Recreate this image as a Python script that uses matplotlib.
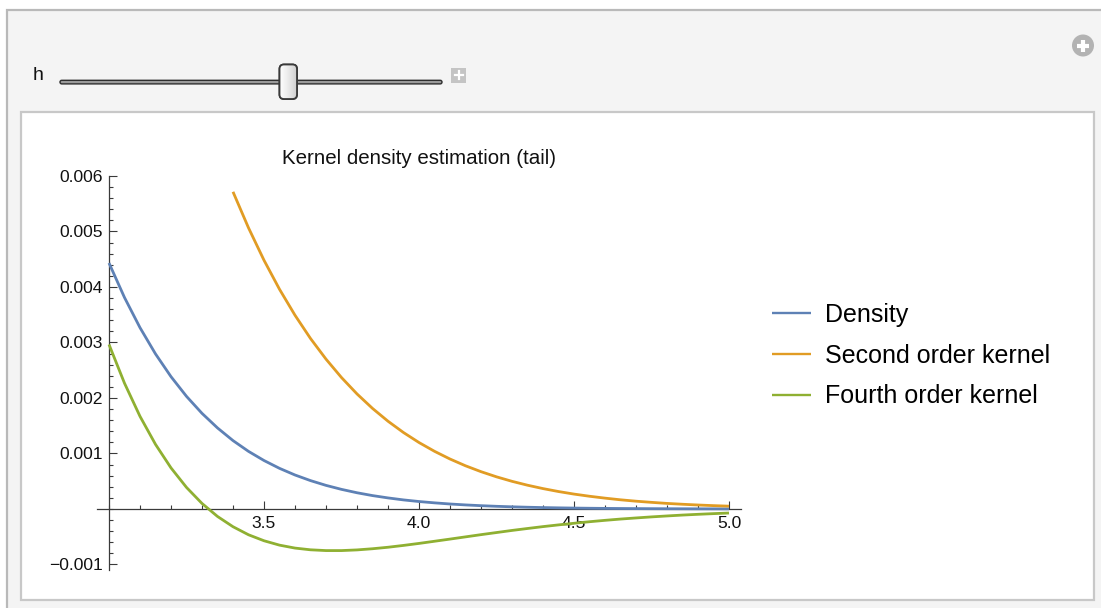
import matplotlib
matplotlib.use("Agg")
import numpy as np
import matplotlib.pyplot as plt
from matplotlib.patches import Rectangle, FancyBboxPatch, Circle
from matplotlib.ticker import FixedLocator, MultipleLocator

plt.rcParams['font.family'] = ['Liberation Sans', 'DejaVu Sans']

# values
x_grid = [3.00, 3.05, 3.10, 3.15, 3.20, 3.25, 3.30, 3.35, 3.40, 3.45,
          3.50, 3.55, 3.60, 3.65, 3.70, 3.75, 3.80, 3.85, 3.90, 3.95,
          4.00, 4.05, 4.10, 4.15, 4.20, 4.25, 4.30, 4.35, 4.40, 4.45,
          4.50, 4.55, 4.60, 4.65, 4.70, 4.75, 4.80, 4.85, 4.90, 4.95, 5.00]

density = [0.004432, 0.003810, 0.003267, 0.002794, 0.002384, 0.002029, 0.001723,
           0.001460, 0.001232, 0.001038, 0.000873, 0.000732, 0.000612, 0.000511,
           0.000425, 0.000353, 0.000292, 0.000241, 0.000199, 0.000163,
           0.000134, 0.000110, 0.0000894, 0.0000728, 0.0000591, 0.0000478,
           0.0000386, 0.0000311, 0.0000250, 0.0000200, 0.0000160, 0.0000127,
           0.0000101, 0.0000080, 0.0000064, 0.0000050, 0.0000040, 0.0000031,
           0.0000024, 0.0000019, 0.0000015]

# second order curve is cut off by the plot range before x = 3.4
x_second = x_grid[8:]
second_order = [0.005715, 0.005066, 0.004482, 0.003959, 0.003491, 0.003072,
                0.002700, 0.002368, 0.002073, 0.001812, 0.001581, 0.001377,
                0.001197, 0.001039, 0.000900, 0.000778, 0.000672, 0.000579,
                0.000498, 0.000428, 0.000367, 0.000314, 0.000268, 0.000229,
                0.000195, 0.000165, 0.000140, 0.000119, 0.000100, 0.0000847,
                0.0000713, 0.0000600, 0.0000503]

fourth_order = [0.002964, 0.002266, 0.001669, 0.001164, 0.000740, 0.000388,
                0.0000992, -0.000135, -0.000320, -0.000465, -0.000573, -0.000652,
                -0.000705, -0.000736, -0.000750, -0.000750, -0.000738, -0.000717,
                -0.000690, -0.000657,
                -0.000621, -0.000582, -0.000543, -0.000503, -0.000463, -0.000425,
                -0.000387, -0.000352, -0.000318, -0.000287, -0.000258, -0.000230,
                -0.000205, -0.000182, -0.000162, -0.000143, -0.000126, -0.000110,
                -0.0000965, -0.0000842, -0.0000733]

series_names = ["Density", "Second order kernel", "Fourth order kernel"]
series_colors = ["#5e81b5", "#e19c24", "#8fb032"]

x_ticks = [3.5, 4.0, 4.5, 5.0]
x_tick_labels = ["3.5", "4.0", "4.5", "5.0"]
y_ticks = [-0.001, 0.001, 0.002, 0.003, 0.004, 0.005, 0.006]
y_tick_labels = ["\u22120.001", "0.001", "0.002", "0.003", "0.004", "0.005", "0.006"]

W, H = 1101, 608
fig = plt.figure(figsize=(W / 100, H / 100), dpi=100)
fig.patch.set_facecolor("white")

# panel background drawn in pixel units
bg = fig.add_axes([0, 0, 1, 1])
bg.set_xlim(0, W)
bg.set_ylim(H, 0)
bg.axis("off")
bg.add_patch(Rectangle((7, 10), W + 20, H + 20, fc="#f4f4f4", ec="#b9b9b9", lw=1.6))
bg.add_patch(Rectangle((21, 112), 1073, 488, fc="white", ec="#c8c8c8", lw=1.6))

# slider
bg.text(33, 76, "h", fontsize=14, va="center", ha="left", color="#111111")
bg.add_patch(FancyBboxPatch((60, 80.3), 382, 3.6, boxstyle="round,pad=0,rounding_size=1.8",
                            fc="#9a9a9a", ec="#2e2e2e", lw=1.0))
thumb = FancyBboxPatch((279.5, 64.5), 17.5, 34.5, boxstyle="round,pad=0,rounding_size=4.5",
                       fc="#e4e4e4", ec="#3a3a3a", lw=1.3, zorder=3)
bg.add_patch(thumb)
grad = np.linspace(0.02, 0.32, 50).reshape(1, -1)
img = bg.imshow(grad, extent=(279.5, 297, 99, 64.5), cmap="Greys", vmin=0.0, vmax=1.0,
                aspect="auto", zorder=3.5, interpolation="bicubic")
img.set_clip_path(thumb)
bg.add_patch(FancyBboxPatch((279.5, 64.5), 17.5, 34.5, boxstyle="round,pad=0,rounding_size=4.5",
                            fc="none", ec="#3a3a3a", lw=1.3, zorder=4))
bg.set_xlim(0, W)
bg.set_ylim(H, 0)

bg.add_patch(Rectangle((451, 67.5), 15, 15, fc="#c4c4c4", ec="none"))
bg.plot([454.5, 462.5], [75, 75], color="white", lw=1.6)
bg.plot([458.5, 458.5], [71, 79], color="white", lw=1.6)

bg.add_patch(Circle((1083, 45.5), 11, fc="#b3b3b3", ec="none"))
bg.plot([1077, 1089], [45.5, 45.5], color="white", lw=3.0, solid_capstyle="butt")
bg.plot([1083, 1083], [39.5, 51.5], color="white", lw=3.0, solid_capstyle="butt")

# the plot itself
x_left, x_right = 96.6, 741.4
y_bot, y_top = 570, 176
ax = fig.add_axes([x_left / W, 1 - y_bot / H, (x_right - x_left) / W, (y_bot - y_top) / H])
ax.patch.set_alpha(0)
ax.set_xlim(2.96, 5.04)
ax.set_ylim(-0.0011, 0.0060)

lines = []
for xs, ys, name, col in zip([x_grid, x_second, x_grid],
                             [density, second_order, fourth_order],
                             series_names, series_colors):
    ln, = ax.plot(xs, ys, color=col, lw=2.0, label=name, zorder=3, solid_capstyle="butt")
    lines.append(ln)

ax.spines["top"].set_visible(False)
ax.spines["right"].set_visible(False)
ax.spines["left"].set_position(("data", 3.0))
ax.spines["bottom"].set_position(("data", 0.0))
for s in ("left", "bottom"):
    ax.spines[s].set_color("#3a3a3a")
    ax.spines[s].set_linewidth(0.9)

ax.xaxis.set_major_locator(FixedLocator(x_ticks))
ax.set_xticklabels(x_tick_labels)
ax.xaxis.set_minor_locator(MultipleLocator(0.1))
ax.yaxis.set_major_locator(FixedLocator(y_ticks))
ax.set_yticklabels(y_tick_labels)
ax.yaxis.set_minor_locator(MultipleLocator(0.0002))

ax.tick_params(which="both", direction="in", color="#3a3a3a", width=0.8,
               labelsize=12.6, labelcolor="#111111")
ax.tick_params(which="major", length=5.8)
ax.tick_params(which="minor", length=2.9)
ax.tick_params(axis="x", pad=5.0)
ax.tick_params(axis="y", pad=4.5)

fig.text(419 / W, 1 - 158 / H, "Kernel density estimation (tail)", fontsize=14.8,
         ha="center", va="center", color="#111111")

leg = fig.legend(handles=lines, loc="center left", bbox_to_anchor=(772 / W, 1 - 355.7 / H),
                 frameon=False, fontsize=18, handlelength=1.56, handletextpad=0.56,
                 labelspacing=0.67, borderpad=0, borderaxespad=0)
for hl in leg.get_lines():
    hl.set_linewidth(1.7)

fig.savefig("out.png", dpi=100)
